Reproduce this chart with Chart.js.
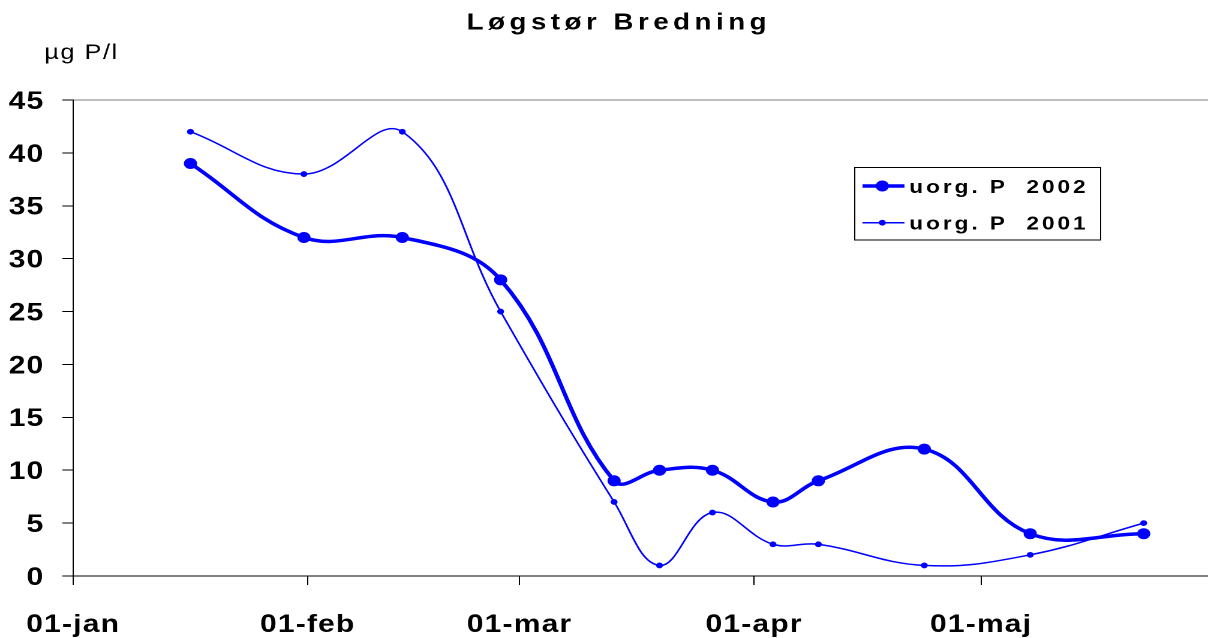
<!DOCTYPE html>
<html>
<head>
<meta charset="utf-8">
<script src="https://cdn.jsdelivr.net/npm/chart.js@4.4.1/dist/chart.umd.min.js"></script>
<style>
  html, body { margin: 0; padding: 0; background: #fff; overflow: hidden; }
  /* the source picture is stretched horizontally, so is this one */
  #wrap { position: absolute; left: 0; top: 0; width: 1007px; height: 638px;
          transform: scaleX(1.1996); transform-origin: 0 0; }
</style>
</head>
<body>
<div id="wrap"><canvas id="Chart"></canvas></div>
<script>
const chartTitle = "Løgstør Bredning";
const unitLabel = "µg P/l";

// sampling dates, as days after 01-jan
const sampleDays = [15.5, 30.5, 43.5, 56.5, 71.5, 77.5, 84.5, 92.5, 98.5, 112.5, 126.5, 141.5];
const values2002 = [39, 32, 32, 28, 9, 10, 10, 7, 9, 12, 4, 4];
const values2001 = [42, 38, 42, 25, 7, 1, 6, 3, 3, 1, 2, 5];
const seriesNames = ["uorg. P  2002", "uorg. P  2001"];

const monthDays = [0, 31, 59, 90, 120];
const monthLabels = ["01-jan", "01-feb", "01-mar", "01-apr", "01-maj"];
const yMax = 45;
const yStep = 5;

const FONT = "'Liberation Sans', Arial, sans-serif";
const BLUE = "#0000ff";

const toPoints = (vals) => sampleDays.map((d, i) => ({ x: d, y: vals[i] }));

const extras = {
  id: "extras",
  beforeDraw(chart) {
    chart.ctx.letterSpacing = "1px";
  },
  afterDraw(chart) {
    const ctx = chart.ctx;
    ctx.save();
    ctx.fillStyle = "#000";
    ctx.textBaseline = "alphabetic";

    // title
    ctx.font = "bold 23px " + FONT;
    ctx.letterSpacing = "3.8px";
    ctx.textAlign = "center";
    ctx.fillText(chartTitle, 514 + 1.9, 29.5);

    // unit
    ctx.font = "21px " + FONT;
    ctx.letterSpacing = "1.3px";
    ctx.textAlign = "left";
    ctx.fillText(unitLabel, 37, 59);

    // legend box
    const bx = 712.5, by = 167.5, bw = 205, bh = 72.5;
    ctx.fillStyle = "#fff";
    ctx.fillRect(bx, by, bw, bh);
    ctx.strokeStyle = "#000";
    ctx.lineWidth = 1;
    ctx.strokeRect(bx, by, bw, bh);

    const rows = [186, 222.7];
    chart.data.datasets.forEach((ds, i) => {
      const y = rows[i];
      ctx.strokeStyle = ds.borderColor;
      ctx.lineWidth = ds.borderWidth;
      ctx.beginPath();
      ctx.moveTo(719, y);
      ctx.lineTo(754, y);
      ctx.stroke();
      ctx.fillStyle = ds.borderColor;
      ctx.beginPath();
      ctx.arc(735.5, y, ds.pointRadius + ds.pointBorderWidth / 2, 0, Math.PI * 2);
      ctx.fill();
      ctx.fillStyle = "#000";
      ctx.font = "bold 18.8px " + FONT;
      ctx.letterSpacing = "2.5px";
      ctx.fillText(ds.label, 758, y + 7);
    });
    ctx.restore();
  }
};

new Chart(document.getElementById("Chart"), {
  type: "line",
  data: {
    datasets: [
      {
        label: seriesNames[0],
        data: toPoints(values2002),
        borderColor: BLUE,
        backgroundColor: BLUE,
        pointBackgroundColor: BLUE,
        pointBorderColor: BLUE,
        borderWidth: 3.5,
        pointRadius: 5,
        pointBorderWidth: 1,
        tension: 0.4,
        fill: false,
      },
      {
        label: seriesNames[1],
        data: toPoints(values2001),
        borderColor: BLUE,
        backgroundColor: BLUE,
        pointBackgroundColor: BLUE,
        pointBorderColor: BLUE,
        borderWidth: 1.5,
        pointRadius: 2.4,
        pointBorderWidth: 1,
        tension: 0.4,
        fill: false,
      },
    ],
  },
  options: {
    responsive: true,
    maintainAspectRatio: false,
    devicePixelRatio: 2,
    animation: false,
    layout: { autoPadding: false, padding: { top: 100, left: 0, right: 0, bottom: 0 } },
    plugins: {
      legend: { display: false },
      tooltip: { enabled: false },
      title: { display: false },
    },
    scales: {
      x: {
        type: "linear",
        min: 0,
        max: 150,
        afterBuildTicks: (scale) => {
          scale.ticks = monthDays.map((v) => ({ value: v }));
        },
        afterFit: (scale) => {
          scale.height = 62;
          scale.paddingLeft = 0;
          scale.paddingRight = 0;
        },
        ticks: {
          autoSkip: false,
          maxRotation: 0,
          padding: 25,
          color: "#000",
          font: { family: FONT, size: 25, weight: "bold" },
          callback: (value) => monthLabels[monthDays.indexOf(value)],
        },
        grid: { drawOnChartArea: false, tickLength: 9, tickColor: "#000" },
        border: { display: true, color: "#000", width: 1 },
      },
      y: {
        min: 0,
        max: yMax,
        afterFit: (scale) => { scale.width = 61; },
        ticks: {
          stepSize: yStep,
          padding: 15,
          labelOffset: 2,
          color: "#000",
          font: { family: FONT, size: 25, weight: "bold" },
        },
        grid: {
          drawOnChartArea: true,
          color: (c) => (c.tick && c.tick.value === yMax ? "#808080" : "rgba(0,0,0,0)"),
          tickColor: "#000",
          tickLength: 9,
        },
        border: { display: true, color: "#000", width: 1 },
      },
    },
  },
  plugins: [extras],
});
</script>
</body>
</html>
